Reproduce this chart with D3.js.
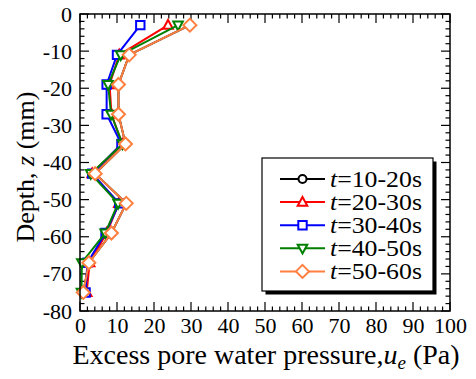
<!DOCTYPE html>
<html>
<head>
<meta charset="utf-8">
<script src="https://cdn.jsdelivr.net/npm/d3@7"></script>
<style>
  html, body { margin: 0; padding: 0; background: #fff; }
  svg { display: block; }
  text { font-family: "Liberation Serif", "Times New Roman", serif; fill: #000; }
</style>
</head>
<body>
<svg id="chart" width="476" height="379"></svg>
<script>
// Depth of each measurement row (mm)
const depths = [-3, -11, -19, -27, -35, -43, -51, -59, -67, -75];

// Excess pore water pressure (Pa) for each time window
const seriesLabels = ["10-20s", "20-30s", "30-40s", "40-50s", "50-60s"];
const pT10_20 = [29.7, 13.3, 10.4, 10.4, 12.3, 4.1, 12.5, 8.5, 2.4, 0.9];
const pT20_30 = [23.8, 10.6, 8.0, 8.5, 11.4, 3.3, 10.5, 7.2, 2.6, 1.8];
const pT30_40 = [16.3, 10.0, 7.2, 7.2, 11.2, 3.3, 10.6, 6.9, 2.0, 1.5];
const pT40_50 = [26.5, 11.0, 7.6, 8.4, 11.5, 2.9, 10.3, 6.8, 0.5, 0.4];
const pT50_60 = [29.7, 13.3, 10.4, 10.4, 12.3, 4.1, 12.5, 8.5, 2.4, 0.9];

const seriesColors = ["#000000", "#ff0000", "#0000ff", "#008000", "#ff7f3f"];
const seriesMarkers = ["circle", "triangleUp", "square", "triangleDown", "diamond"];

// Axis tick values
const xTicks = [0, 10, 20, 30, 40, 50, 60, 70, 80, 90, 100];
const yTicks = [0, -10, -20, -30, -40, -50, -60, -70, -80];

const series = [pT10_20, pT20_30, pT30_40, pT40_50, pT50_60].map((vals, i) => ({
  label: seriesLabels[i],
  color: seriesColors[i],
  marker: seriesMarkers[i],
  points: vals.map((v, j) => ({ x: v, z: depths[j] }))
}));

const svg = d3.select("#chart");
const plotL = 80, plotR = 450, plotT = 14, plotB = 311;

const x = d3.scaleLinear().domain([0, 100]).range([plotL, plotR]);
const y = d3.scaleLinear().domain([0, -80]).range([plotT, plotB]);

// Marker shapes (open symbols)
function markerPath(type) {
  const p = d3.path();
  if (type === "circle") {
    p.arc(0, 0, 4, 0, 2 * Math.PI);
  } else if (type === "square") {
    p.rect(-4.2, -4.2, 8.4, 8.4);
  } else if (type === "triangleUp") {
    p.moveTo(0, -5.2); p.lineTo(4.8, 3.6); p.lineTo(-4.8, 3.6); p.closePath();
  } else if (type === "triangleDown") {
    p.moveTo(0, 5.2); p.lineTo(4.8, -3.6); p.lineTo(-4.8, -3.6); p.closePath();
  } else if (type === "diamond") {
    p.moveTo(0, -6.5); p.lineTo(6.5, 0); p.lineTo(0, 6.5); p.lineTo(-6.5, 0); p.closePath();
  }
  return p.toString();
}

// Minor + major ticks, drawn inward on all four sides
const xMinor = d3.range(0, 100.001, 2);
const yMinor = d3.range(0, -80.001, -2);
const tickG = svg.append("g").attr("stroke", "#000").attr("stroke-width", 1.2);
xMinor.forEach(v => {
  const major = Math.abs(v % 10) < 1e-6;
  const len = major ? 9 : 4.5;
  tickG.append("line").attr("x1", x(v)).attr("x2", x(v)).attr("y1", plotB).attr("y2", plotB - len);
  tickG.append("line").attr("x1", x(v)).attr("x2", x(v)).attr("y1", plotT).attr("y2", plotT + len);
});
yMinor.forEach(v => {
  const major = Math.abs(v % 10) < 1e-6;
  const len = major ? 9 : 4.5;
  tickG.append("line").attr("y1", y(v)).attr("y2", y(v)).attr("x1", plotL).attr("x2", plotL + len);
  tickG.append("line").attr("y1", y(v)).attr("y2", y(v)).attr("x1", plotR).attr("x2", plotR - len);
});

// Tick labels through D3 axes
const xAxis = svg.append("g")
  .attr("transform", `translate(0,${plotB})`)
  .call(d3.axisBottom(x).tickValues(xTicks).tickSize(0).tickPadding(6).tickFormat(d3.format("d")));
xAxis.select(".domain").remove();
xAxis.selectAll("text").style("font-size", "22px").style("font-family", "Liberation Serif");

const yAxis = svg.append("g")
  .attr("transform", `translate(${plotL},0)`)
  .call(d3.axisLeft(y).tickValues(yTicks).tickSize(0).tickPadding(8).tickFormat(d => d3.format("d")(d).replace("−", "-")));
yAxis.select(".domain").remove();
yAxis.selectAll("text").style("font-size", "22px").style("font-family", "Liberation Serif");

// Series lines and markers
const line = d3.line().x(d => x(d.x)).y(d => y(d.z));
series.forEach(s => {
  const g = svg.append("g");
  g.append("path").datum(s.points)
    .attr("d", line).attr("fill", "none")
    .attr("stroke", s.color).attr("stroke-width", 2).attr("stroke-linejoin", "round");
  g.selectAll("path.m").data(s.points).join("path")
    .attr("class", "m")
    .attr("d", markerPath(s.marker))
    .attr("transform", d => `translate(${x(d.x)},${y(d.z)})`)
    .attr("fill", "#fff").attr("stroke", s.color).attr("stroke-width", 2);
});

// Plot frame
svg.append("rect")
  .attr("x", plotL).attr("y", plotT).attr("width", plotR - plotL).attr("height", plotB - plotT)
  .attr("fill", "none").attr("stroke", "#000").attr("stroke-width", 1.5);

// Legend with drop shadow
const lg = svg.append("g");
const lx = 262, ly = 158, lw = 171, lh = 133;
lg.append("rect").attr("x", lx + 3.5).attr("y", ly + 3.5).attr("width", lw).attr("height", lh).attr("fill", "#000");
lg.append("rect").attr("x", lx).attr("y", ly).attr("width", lw).attr("height", lh)
  .attr("fill", "#fff").attr("stroke", "#000").attr("stroke-width", 1.2);
series.forEach((s, i) => {
  const ry = 179 + i * 23.1;
  lg.append("line").attr("x1", 280).attr("x2", 325).attr("y1", ry).attr("y2", ry)
    .attr("stroke", s.color).attr("stroke-width", 2);
  lg.append("path").attr("d", markerPath(s.marker)).attr("transform", `translate(302.5,${ry})`)
    .attr("fill", "#fff").attr("stroke", s.color).attr("stroke-width", 2);
  const t = lg.append("text").attr("x", 330).attr("y", ry + 7.5)
    .style("font-size", "23px")
    .attr("textLength", 92).attr("lengthAdjust", "spacingAndGlyphs");
  t.append("tspan").style("font-style", "italic").text("t");
  t.append("tspan").text("=" + s.label);
});

// Axis titles
const xt = svg.append("text").attr("x", 266).attr("y", 364).attr("text-anchor", "middle").style("font-size", "28px");
xt.append("tspan").text("Excess pore water pressure,");
xt.append("tspan").style("font-style", "italic").text("u");
xt.append("tspan").style("font-style", "italic").style("font-size", "19px").attr("dy", 5).text("e");
xt.append("tspan").attr("dy", -5).text(" (Pa)");

const yt = svg.append("text").attr("transform", "translate(34,167) rotate(-90)").attr("text-anchor", "middle").style("font-size", "26px");
yt.append("tspan").text("Depth, ");
yt.append("tspan").style("font-style", "italic").text("z");
yt.append("tspan").text(" (mm)");
</script>
</body>
</html>
